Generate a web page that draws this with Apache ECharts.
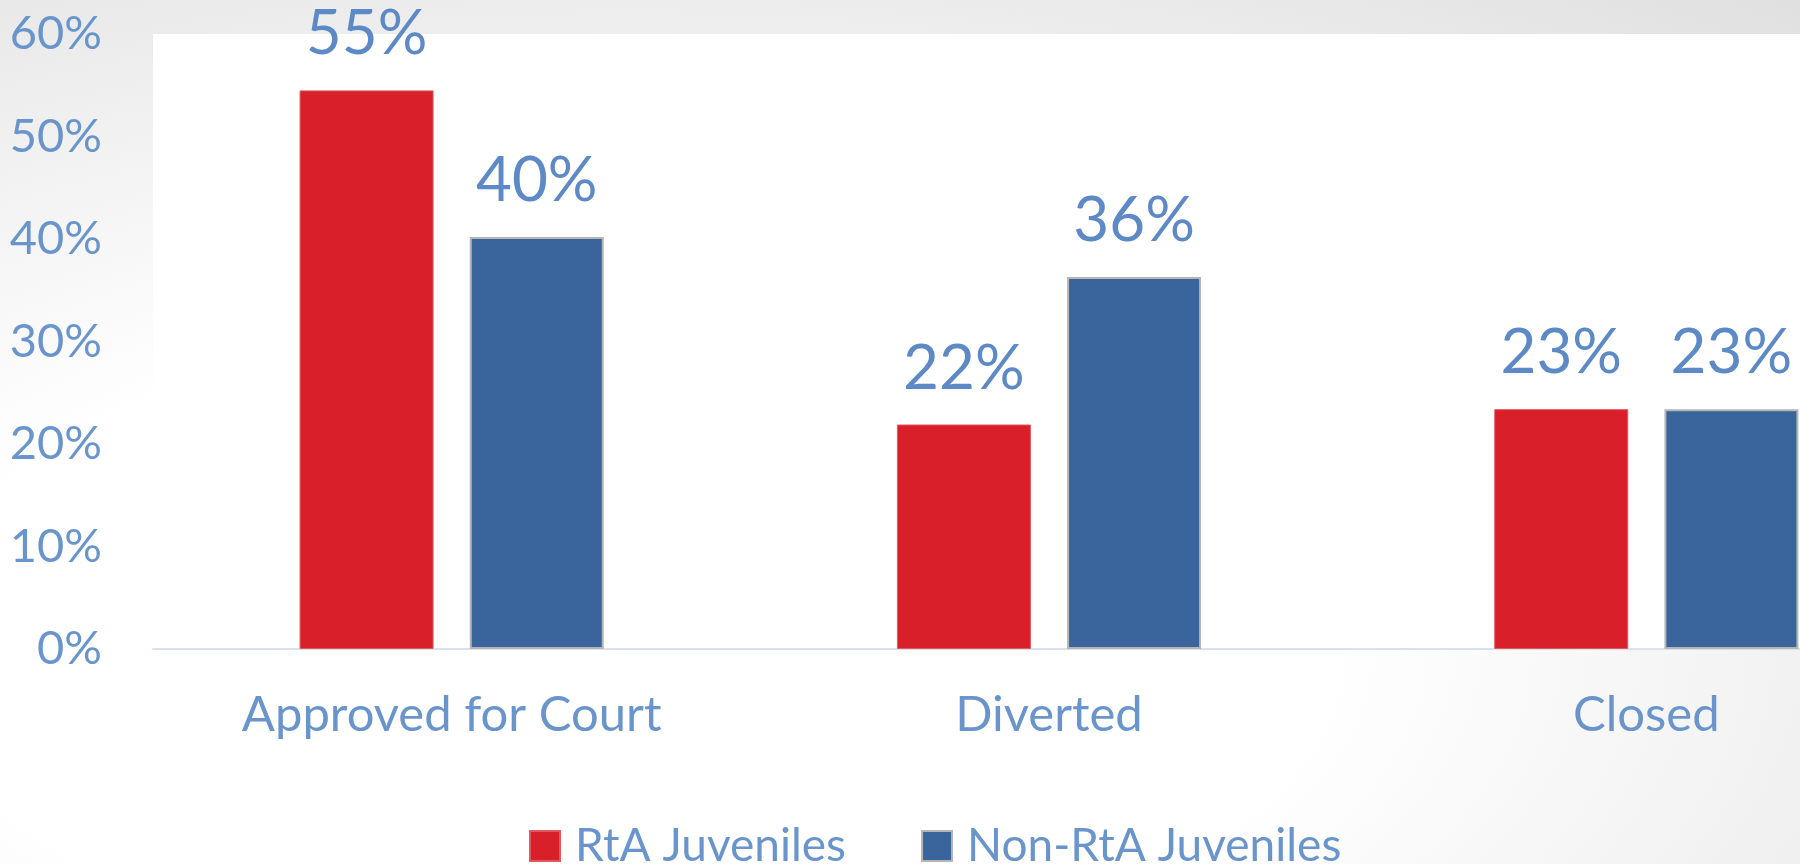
<!DOCTYPE html>
<html>
<head>
<meta charset="utf-8">
<script src="https://cdn.jsdelivr.net/npm/echarts@6/dist/echarts.min.js"></script>
<style>
html, body { margin: 0; padding: 0; }
body {
    width: 1800px; height: 864px; overflow: hidden;
    background: radial-gradient(ellipse 110% 110% at 35% 75%, #ffffff 35%, #f0f0f0 62%, #dadada 100%);
}
#chart { width: 1800px; height: 864px; }
</style>
</head>
<body>
<div id="chart"></div>
<script>
// categories and values (percent)
const categories = ['Approved for Court', 'Diverted', 'Closed'];
const rtaValues = [54.5, 21.9, 23.4];
const nonRtaValues = [40.2, 36.3, 23.4];
const yTicks = [0, 10, 20, 30, 40, 50, 60];

const labelBlue = '#6A95CC';
const font = 'Lato';

let myChart = echarts.init(document.getElementById('chart'));

let labelOpt = {
    show: true,
    position: 'top',
    distance: 25,
    color: '#5D8AC6',
    fontFamily: font,
    fontSize: 62,
    formatter: function (p) { return Math.round(p.value) + '%'; }
};

let option = {
    animation: false,
    grid: {
        left: 153, top: 34, width: 1792, height: 615,
        outerBoundsMode: 'none',
        show: true, backgroundColor: '#ffffff', borderWidth: 0
    },
    legend: {
        left: 529, top: 823,
        padding: 0,
        itemWidth: 30, itemHeight: 30, itemGap: 75,
        icon: 'rect',
        textStyle: { color: labelBlue, fontFamily: font, fontSize: 46, padding: [0, 0, 0, 10] },
        data: ['RtA Juveniles', 'Non-RtA Juveniles']
    },
    xAxis: {
        type: 'category',
        data: categories,
        axisTick: { show: false },
        axisLine: { lineStyle: { color: '#D8E2EF', width: 2 } },
        axisLabel: { interval: 0, color: labelBlue, fontFamily: font, fontSize: 49, margin: 42 }
    },
    yAxis: {
        type: 'value',
        min: yTicks[0], max: yTicks[yTicks.length - 1], interval: 10,
        axisLine: { show: false },
        axisTick: { show: false },
        splitLine: { show: false },
        axisLabel: { color: labelBlue, fontFamily: font, fontSize: 47, margin: 51, formatter: '{value}%' }
    },
    series: [
        {
            name: 'RtA Juveniles',
            type: 'bar',
            data: rtaValues,
            barWidth: 134,
            barGap: '27%',
            itemStyle: { color: '#D91F29', borderColor: '#E2585E', borderWidth: 1 },
            label: labelOpt
        },
        {
            name: 'Non-RtA Juveniles',
            type: 'bar',
            data: nonRtaValues,
            barWidth: 134,
            barGap: '27%',
            itemStyle: { color: '#3A659C', borderColor: '#B5B5B5', borderWidth: 2 },
            label: labelOpt
        }
    ]
};

myChart.setOption(option);
</script>
</body>
</html>
